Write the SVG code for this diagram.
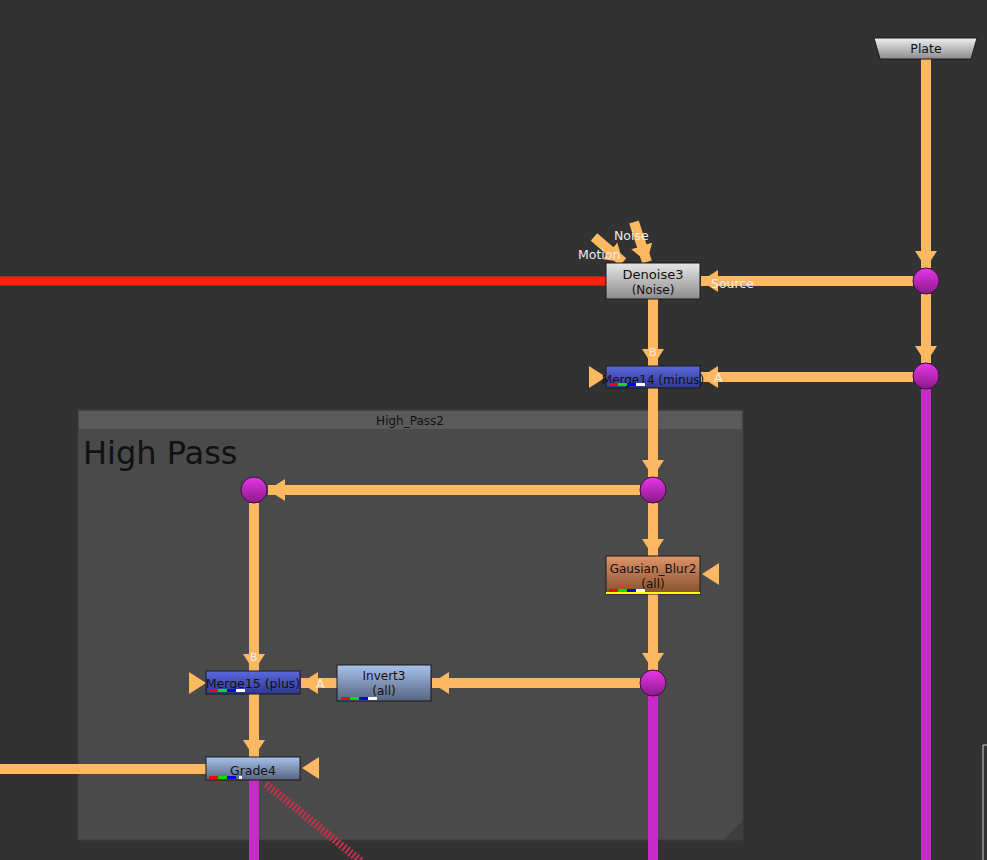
<svg xmlns="http://www.w3.org/2000/svg" width="987" height="860" viewBox="0 0 987 860">
<defs>
<marker id="ah" markerUnits="userSpaceOnUse" markerWidth="18" markerHeight="24" refX="17" refY="11" orient="auto" viewBox="0 0 18 22">
<path d="M0,0 L17,11 L0,22 z" fill="#fdb862"/>
</marker>
<linearGradient id="gGray" x1="0" y1="0" x2="0" y2="1"><stop offset="0" stop-color="#e6e6e6"/><stop offset="1" stop-color="#8c8c8c"/></linearGradient>
<linearGradient id="gBlue" x1="0" y1="0" x2="0" y2="1"><stop offset="0" stop-color="#5a68dc"/><stop offset="1" stop-color="#2e3890"/></linearGradient>
<linearGradient id="gLight" x1="0" y1="0" x2="0" y2="1"><stop offset="0" stop-color="#a8c2ee"/><stop offset="1" stop-color="#56647e"/></linearGradient>
<linearGradient id="gOrange" x1="0" y1="0" x2="0" y2="1"><stop offset="0" stop-color="#e0946a"/><stop offset="1" stop-color="#84502e"/></linearGradient>
<linearGradient id="gDot" x1="0" y1="0" x2="0" y2="1"><stop offset="0" stop-color="#e836e8"/><stop offset="1" stop-color="#8a1a8a"/></linearGradient>
<linearGradient id="gPlate" x1="0" y1="0" x2="0" y2="1"><stop offset="0" stop-color="#f0f0f0"/><stop offset="1" stop-color="#8a8a8a"/></linearGradient>
</defs>
<style>
.e{stroke:#fdb862;stroke-width:10;fill:none}
.ea{stroke:#fdb862;stroke-width:10;fill:none;marker-end:url(#ah)}
.mg{stroke:#c82ac8;stroke-width:10;fill:none}
.tri{fill:#fdb862}
.dot{fill:url(#gDot);stroke:#3a123a;stroke-width:1}
.nb{stroke:#1a1a1a;stroke-width:1}
.t{font-family:"DejaVu Sans",Verdana,sans-serif;font-size:12.5px;fill:#111;text-anchor:middle}
.t2{font-family:"DejaVu Sans",Verdana,sans-serif;font-size:12px;fill:#111;text-anchor:middle}
.lb{font-family:"DejaVu Sans",Verdana,sans-serif;font-size:12.5px;fill:#eeeeee}
</style>
<rect width="987" height="860" fill="#323232"/>
<g id="backdrop">
<rect x="78" y="410" width="665" height="430" fill="#4a4a4a" stroke="#3c3c3c" stroke-width="1"/>
<rect x="79" y="411" width="663" height="18" fill="#5a5a5a"/>
<text x="410" y="425" class="t2">High_Pass2</text>
<text x="83" y="464" style="font-family:'DejaVu Sans',Verdana,sans-serif;font-size:32px;fill:#111">High Pass</text>
<polygon points="743,820 743,840 723,840" fill="#3e3e3e"/>
</g>
<g id="connectors">
<line x1="0" y1="281" x2="606" y2="281" stroke="#ff2010" stroke-width="9"/>
<line x1="0" y1="769" x2="206" y2="769" class="e"/>
<line x1="926" y1="389" x2="926" y2="860" class="mg"/>
<line x1="653" y1="696" x2="653" y2="860" class="mg"/>
<line x1="254" y1="780" x2="254" y2="860" class="mg"/>
<line x1="266" y1="784" x2="362" y2="862" stroke="#c8304e" stroke-width="8" stroke-dasharray="2 2"/>
<line x1="926" y1="59" x2="926" y2="268" class="ea"/>
<line x1="926" y1="294" x2="926" y2="363" class="ea"/>
<line x1="913" y1="281" x2="701" y2="281" class="ea"/>
<line x1="913" y1="377" x2="701" y2="377" class="ea"/>
<line x1="653" y1="299" x2="653" y2="366" class="ea"/>
<line x1="653" y1="388" x2="653" y2="477" class="ea"/>
<line x1="640" y1="490" x2="268" y2="490" class="ea"/>
<line x1="653" y1="503" x2="653" y2="556" class="ea"/>
<line x1="653" y1="594" x2="653" y2="670" class="ea"/>
<line x1="640" y1="683" x2="432" y2="683" class="ea"/>
<line x1="337" y1="683" x2="301" y2="683" class="ea"/>
<line x1="254" y1="503" x2="254" y2="671" class="ea"/>
<line x1="254" y1="694" x2="254" y2="757" class="ea"/>
<line x1="594" y1="237" x2="623" y2="262" class="ea"/>
<line x1="634" y1="222" x2="647" y2="262" class="ea"/>
<polygon class="tri" points="589,366 606,377 589,388"/>
<polygon class="tri" points="719,563 702,574 719,585"/>
<polygon class="tri" points="189,672 206,683 189,694"/>
<polygon class="tri" points="319,757 302,768 319,779"/>
<text x="578" y="259" class="lb">Motion</text>
<text x="614" y="240" class="lb">Noise</text>
<text x="711" y="288" class="lb">Source</text>
<text x="649" y="356" class="lb" style="font-size:11px">B</text>
<text x="714" y="382" class="lb">A</text>
<text x="250" y="661" class="lb" style="font-size:11px">B</text>
<text x="316" y="688" class="lb">A</text>
</g>
<g id="Plate">
<polygon points="874,38 977,38 971,59 880,59" fill="url(#gPlate)" stroke="#1a1a1a" stroke-width="1"/>
<text x="926" y="53" class="t">Plate</text>
</g>
<g id="dots">
<circle cx="926" cy="281" r="13" class="dot"/>
<circle cx="926" cy="376" r="13" class="dot"/>
<circle cx="653" cy="490" r="13" class="dot"/>
<circle cx="254" cy="490" r="13" class="dot"/>
<circle cx="653" cy="683" r="13" class="dot"/>
</g>
<g id="Denoise3">
<rect x="606" y="263" width="94" height="36" fill="url(#gGray)" class="nb"/>
<text x="653" y="279" class="t2" style="font-size:13px">Denoise3</text>
<text x="653" y="294" class="t2">(Noise)</text>
</g>
<g id="Merge14">
<rect x="606" y="366" width="94" height="22" fill="url(#gBlue)" class="nb"/>
<text x="653" y="384" class="t2">Merge14 (minus)</text>
<rect x="609" y="383" width="9" height="3" fill="#ff0000"/><rect x="618" y="383" width="9" height="3" fill="#00e000"/><rect x="627" y="383" width="9" height="3" fill="#0000ff"/><rect x="636" y="383" width="9" height="3" fill="#ffffff"/>
</g>
<g id="Gausian_Blur2">
<rect x="606" y="556" width="94" height="38" fill="url(#gOrange)" class="nb"/>
<text x="653" y="573" class="t2">Gausian_Blur2</text>
<text x="653" y="588" class="t2">(all)</text>
<rect x="609" y="589" width="9" height="3" fill="#ff0000"/><rect x="618" y="589" width="9" height="3" fill="#00e000"/><rect x="627" y="589" width="9" height="3" fill="#0000ff"/><rect x="636" y="589" width="9" height="3" fill="#ffffff"/>
<rect x="606" y="592" width="94" height="2" fill="#ffff00"/>
</g>
<g id="Invert3">
<rect x="337" y="665" width="94" height="36" fill="url(#gLight)" class="nb"/>
<text x="384" y="680" class="t2">Invert3</text>
<text x="384" y="695" class="t2">(all)</text>
<rect x="341" y="697" width="9" height="3" fill="#ff0000"/><rect x="350" y="697" width="9" height="3" fill="#00e000"/><rect x="359" y="697" width="9" height="3" fill="#0000ff"/><rect x="368" y="697" width="9" height="3" fill="#ffffff"/>
</g>
<g id="Merge15">
<rect x="206" y="671" width="94" height="23" fill="url(#gBlue)" class="nb"/>
<text x="253" y="688" class="t">Merge15 (plus)</text>
<rect x="209" y="689" width="9" height="3" fill="#ff0000"/><rect x="218" y="689" width="9" height="3" fill="#00e000"/><rect x="227" y="689" width="9" height="3" fill="#0000ff"/><rect x="236" y="689" width="9" height="3" fill="#ffffff"/>
</g>
<g id="Grade4">
<rect x="206" y="757" width="94" height="23" fill="url(#gLight)" class="nb"/>
<text x="253" y="775" class="t">Grade4</text>
<rect x="209" y="776" width="9" height="3" fill="#ff0000"/><rect x="218" y="776" width="9" height="3" fill="#00e000"/><rect x="227" y="776" width="9" height="3" fill="#0000ff"/><rect x="239" y="776" width="3" height="3" fill="#ffffff"/>
</g>
<g id="edge-frame">
<polyline points="987,745 983,745 983,860" fill="none" stroke="#d0d0d0" stroke-width="1"/>
</g>
</svg>
